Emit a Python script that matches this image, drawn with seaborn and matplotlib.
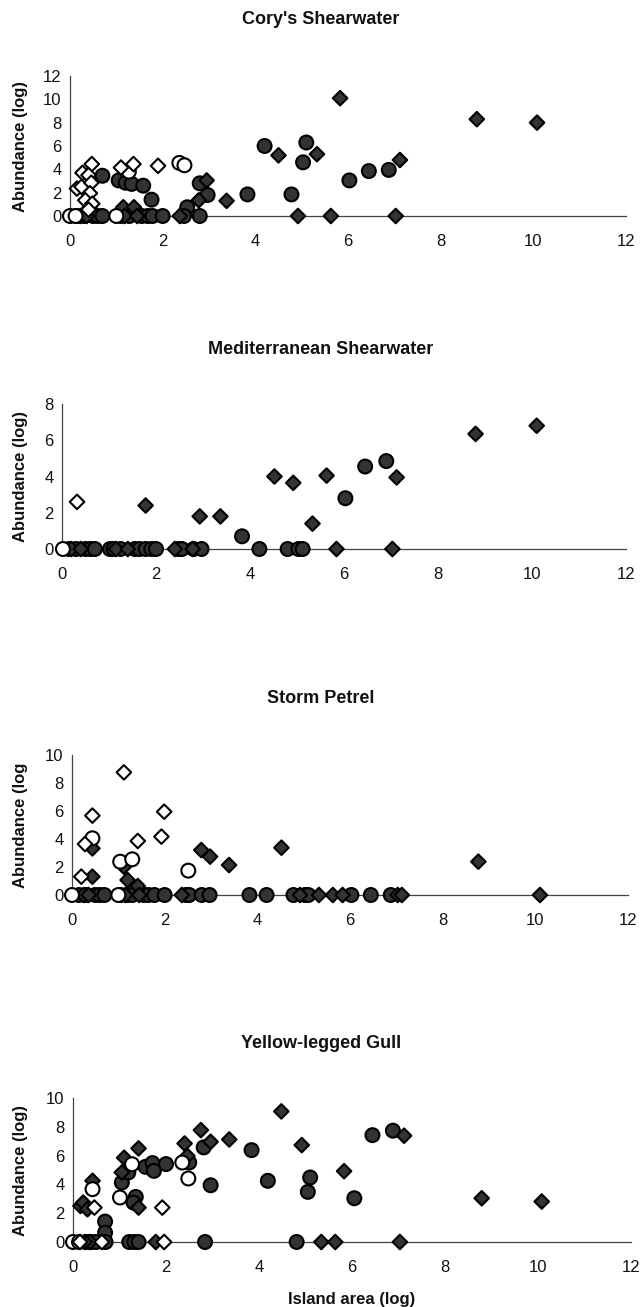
import pandas as pd
import matplotlib
matplotlib.use("Agg")
import matplotlib.pyplot as plt
import seaborn as sns

# oc = open circle, od = open diamond, fc = filled circle, fd = filled diamond

# Cory's Shearwater
cory_oc_x = [0.0, 0.12, 1.0, 1.27, 2.36, 2.47]
cory_oc_y = [0, 0, 0, 3.8, 4.55, 4.35]
cory_od_x = [0.15, 0.25, 0.27, 0.47, 0.4, 0.46, 0.43, 0.33, 0.48, 0.4, 1.1, 1.37, 1.9]
cory_od_y = [2.35, 2.5, 3.7, 4.45, 3.5, 2.85, 1.95, 1.35, 1.05, 0.55, 4.15, 4.45, 4.3]
cory_fc_x = [0.7, 1.05, 1.2, 1.33, 1.58, 1.76, 2.53, 2.8, 2.97, 3.83, 4.2, 4.78, 5.03, 5.1,
             6.03, 6.45, 6.88, 0.15, 0.3, 0.5, 0.6, 0.7, 1.1, 1.28, 1.55, 1.68, 1.78, 2.0,
             2.46, 2.8]
cory_fc_y = [3.45, 3.05, 2.85, 2.75, 2.6, 1.4, 0.75, 2.8, 1.8, 1.85, 6.0, 1.85, 4.6, 6.3,
             3.05, 3.85, 3.95, 0, 0, 0, 0, 0, 0, 0, 0, 0, 0, 0,
             0, 0]
cory_fd_x = [0.42, 1.15, 1.38, 2.78, 2.95, 3.38, 4.5, 5.33, 5.83, 7.12, 8.78, 10.08,
             0.22, 0.36, 1.18, 1.45, 2.37, 4.92, 5.63, 7.03]
cory_fd_y = [0.7, 0.75, 0.75, 1.35, 3.05, 1.3, 5.2, 5.3, 10.1, 4.8, 8.3, 8.0,
             0, 0, 0, 0, 0, 0, 0, 0]

# Mediterranean Shearwater
med_oc_x = [0.02]
med_oc_y = [0]
med_od_x = [0.32]
med_od_y = [2.6]
med_fc_x = [3.83, 4.2, 4.8, 5.03, 5.12, 6.03, 6.45, 6.9, 0.15, 0.3, 0.5, 0.6, 0.7, 1.02,
            1.1, 1.25, 1.55, 1.65, 1.78, 1.9, 2.0, 2.47, 2.55, 2.8, 2.97]
med_fc_y = [0.7, 0, 0, 0, 0, 2.8, 4.55, 4.85, 0, 0, 0, 0, 0, 0,
            0, 0, 0, 0, 0, 0, 0, 0, 0, 0, 0]
med_fd_x = [1.78, 2.93, 3.37, 4.52, 4.92, 5.33, 5.63, 5.84, 7.03, 7.12, 8.8, 10.1,
            0.2, 0.4, 1.15, 1.4, 2.4, 2.78]
med_fd_y = [2.4, 1.8, 1.8, 4.0, 3.65, 1.4, 4.05, 0, 0, 3.95, 6.35, 6.8,
            0, 0, 0, 0, 0, 0]

# Storm Petrel
petrel_oc_x = [0.0, 0.44, 1.04, 1.3, 2.51, 1.0]
petrel_oc_y = [0, 4.05, 2.38, 2.55, 1.74, 0]
petrel_od_x = [0.2, 0.28, 0.44, 1.12, 1.42, 1.99, 1.93]
petrel_od_y = [1.31, 3.64, 5.67, 8.76, 3.86, 5.95, 4.17]
petrel_fc_x = [0.15, 0.3, 0.5, 0.6, 0.7, 1.05, 1.2, 1.3, 1.55, 1.65, 1.78, 2.0, 2.46, 2.53,
               2.8, 2.97, 3.83, 4.2, 4.78, 5.03, 5.1, 6.03, 6.45, 6.88]
petrel_fc_y = [0, 0, 0, 0, 0, 0, 0, 0, 0, 0, 0, 0, 0, 0,
               0, 0, 0, 0, 0, 0, 0, 0, 0, 0]
petrel_fd_x = [0.44, 0.44, 1.12, 1.2, 1.42, 2.79, 2.98, 3.39, 4.52, 8.77, 10.1,
               0.25, 0.36, 1.15, 1.45, 2.37, 4.92, 5.33, 5.63, 5.84, 7.03, 7.12]
petrel_fd_y = [3.33, 1.31, 2.02, 1.07, 0.64, 3.21, 2.74, 2.14, 3.38, 2.38, 0,
               0, 0, 0, 0, 0, 0, 0, 0, 0, 0, 0]

# Yellow-legged Gull
gull_oc_x = [0.0, 0.13, 0.42, 1.01, 1.27, 2.35, 2.48]
gull_oc_y = [0, 0, 3.67, 3.09, 5.4, 5.52, 4.41]
gull_od_x = [0.46, 1.92, 1.96, 0.15, 0.62]
gull_od_y = [2.39, 2.39, 0, 0, 0]
gull_fc_x = [0.69, 0.69, 1.05, 1.19, 1.35, 1.3, 1.56, 1.71, 1.74, 2.0, 2.5, 2.81, 2.96,
             3.84, 4.19, 4.81, 5.05, 5.1, 6.05, 6.44, 6.88, 2.84, 1.21, 1.32, 1.41,
             0.3, 0.4, 0.5, 0.7]
gull_fc_y = [1.42, 0.65, 4.13, 4.83, 3.13, 2.74, 5.22, 5.48, 4.94, 5.41, 5.52, 6.57, 3.94,
             6.38, 4.25, 0, 3.48, 4.48, 3.04, 7.42, 7.73, 0, 0, 0, 0,
             0, 0, 0, 0]
gull_fd_x = [0.16, 0.22, 0.31, 0.42, 1.05, 1.1, 1.41, 1.41, 2.4, 2.46, 2.75, 2.96, 3.36,
             4.48, 4.92, 5.34, 5.64, 5.83, 7.03, 7.12, 8.79, 10.08, 1.78, 0.36, 0.25]
gull_fd_y = [2.5, 2.74, 2.27, 4.25, 4.83, 5.85, 6.5, 2.39, 6.84, 5.98, 7.77, 6.96, 7.12,
             9.07, 6.73, 0, 0, 4.92, 0, 7.38, 3.04, 2.81, 0, 0, 0]

x_ticks = [0, 2, 4, 6, 8, 10, 12]

W, H = 641, 1307


def montar(fc, fd, oc, od):
    partes = []
    for kind, (xs, ys) in [("fc", fc), ("fd", fd), ("oc", oc), ("od", od)]:
        partes.append(pd.DataFrame({"x": xs, "y": ys, "kind": kind}))
    return pd.concat(partes, ignore_index=True)


def painel(fig, df, box, title, title_y, y_max, ylabel, xlabel=None):
    left, right, top, bottom = box
    ax = fig.add_axes([left / W, 1 - bottom / H, (right - left) / W, (bottom - top) / H])

    sns.scatterplot(
        data=df, x="x", y="y", hue="kind", style="kind", size="kind",
        palette={"oc": "white", "od": "white", "fc": "#333333", "fd": "#333333"},
        markers={"oc": "o", "fc": "o", "od": "D", "fd": "D"},
        sizes={"oc": 100, "fc": 100, "od": 55, "fd": 55},
        edgecolor="black", linewidth=1.5, legend=False, clip_on=False, ax=ax,
        zorder=3,
    )

    ax.set_xlim(0, 12)
    ax.set_ylim(0, y_max)
    ax.set_xticks(x_ticks)
    ax.set_yticks(list(range(0, y_max + 1, 2)))
    for s in ["top", "right"]:
        ax.spines[s].set_visible(False)
    for s in ["left", "bottom"]:
        ax.spines[s].set_color("#444444")
        ax.spines[s].set_linewidth(0.9)
    ax.tick_params(axis="both", direction="out", length=4, width=0.9, color="#444444",
                   labelsize=12, labelcolor="#111111")
    ax.tick_params(axis="x", pad=9)
    ax.tick_params(axis="y", pad=2)

    ax.set_ylabel(ylabel, fontsize=12, fontweight="bold", color="#111111")
    ax.yaxis.set_label_coords((28 - left) / (right - left), 0.5)
    if xlabel:
        ax.set_xlabel(xlabel, fontsize=12, fontweight="bold", color="#111111", labelpad=12)
    else:
        ax.set_xlabel("")

    fig.text(321 / W, 1 - title_y / H, title, ha="center", va="center",
             fontsize=13, fontweight="bold", color="#111111")
    return ax


sns.set_style("white")
plt.rcParams["font.family"] = ["Liberation Sans", "DejaVu Sans"]

fig = plt.figure(figsize=(W / 100, H / 100), dpi=100)
fig.patch.set_facecolor("white")

cory = montar((cory_fc_x, cory_fc_y), (cory_fd_x, cory_fd_y),
              (cory_oc_x, cory_oc_y), (cory_od_x, cory_od_y))
med = montar((med_fc_x, med_fc_y), (med_fd_x, med_fd_y),
             (med_oc_x, med_oc_y), (med_od_x, med_od_y))
petrel = montar((petrel_fc_x, petrel_fc_y), (petrel_fd_x, petrel_fd_y),
                (petrel_oc_x, petrel_oc_y), (petrel_od_x, petrel_od_y))
gull = montar((gull_fc_x, gull_fc_y), (gull_fd_x, gull_fd_y),
              (gull_oc_x, gull_oc_y), (gull_od_x, gull_od_y))

painel(fig, cory, (70, 626, 76, 216), "Cory's Shearwater", 20, 12, "Abundance (log)")
painel(fig, med, (62, 626, 404, 549), "Mediterranean Shearwater", 349, 8, "Abundance (log)")
painel(fig, petrel, (72, 628, 755, 895), "Storm Petrel", 699, 10, "Abundance (log")
painel(fig, gull, (73, 631, 1098, 1242), "Yellow-legged Gull", 1043, 10, "Abundance (log)",
       xlabel="Island area (log)")

fig.savefig("out.png", dpi=100, facecolor="white")
